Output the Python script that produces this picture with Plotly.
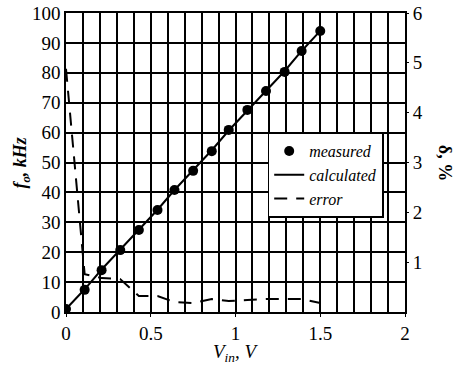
import plotly.graph_objects as go

# ---- data ----
vin = [0, 0.11, 0.21, 0.32, 0.43, 0.54, 0.64, 0.75, 0.86, 0.96, 1.07, 1.18, 1.29, 1.39, 1.5]
f_measured = [1.0, 7.4, 14.0, 20.7, 27.4, 34.1, 40.8, 47.2, 53.8, 60.9, 67.6, 73.9, 80.3, 87.3, 94.0]
f_calculated = [1.0, 7.6, 14.2, 20.9, 27.5, 34.2, 40.8, 47.5, 54.1, 60.7, 67.4, 74.0, 80.6, 87.3, 94.0]
error_pct = [4.88, 0.76, 0.68, 0.66, 0.32, 0.32, 0.20, 0.18, 0.26, 0.22, 0.24, 0.26, 0.26, 0.26, 0.18]

x_ticks = [0, 0.5, 1, 1.5, 2]
x_ticklabels = ["0", "0.5", "1", "1.5", "2"]
y_ticks = list(range(0, 101, 10))
y2_ticks = [1, 2, 3, 4, 5, 6]

x_title = "<i>V</i><sub><i>in</i></sub><i>, V</i>"
y_title = "<b><i>f</i></b><sub><b><i>o</i></b></sub><b><i>, kHz</i></b>"
y2_title = "<b>δ, %</b>"

FONT = "Liberation Serif"
TICKFONT = dict(family=FONT, size=19, color="black")

fig = go.Figure()
fig.add_trace(go.Scatter(
    x=vin, y=f_measured, mode="markers", name="measured",
    marker=dict(color="black", size=10, symbol="circle"),
))
fig.add_trace(go.Scatter(
    x=vin, y=f_calculated, mode="lines", name="calculated",
    line=dict(color="black", width=2),
))
fig.add_trace(go.Scatter(
    x=vin, y=error_pct, mode="lines", name="error", yaxis="y2",
    line=dict(color="black", width=2, dash="13px,9px"),
))

fig.update_layout(
    width=454, height=365,
    margin=dict(l=66, r=49, t=13, b=53, autoexpand=False),
    paper_bgcolor="white", plot_bgcolor="white",
    font=dict(family=FONT, size=18, color="black"),
    showlegend=True,
    legend=dict(
        x=0.595, y=0.6, xanchor="left", yanchor="top",
        bgcolor="white", bordercolor="black", borderwidth=1.5,
        font=dict(family=FONT, size=16, style="italic"),
        itemwidth=30, tracegroupgap=0,
    ),
    xaxis=dict(
        range=[0, 2], tickvals=x_ticks, ticktext=x_ticklabels, tickfont=TICKFONT,
        showgrid=True, gridcolor="black", gridwidth=1.5,
        minor=dict(dtick=0.1, showgrid=True, gridcolor="black", gridwidth=1.5),
        showline=True, linecolor="black", linewidth=1.5, mirror=True,
        ticks="outside", ticklen=3, tickcolor="black",
        zeroline=False, automargin=False,
    ),
    yaxis=dict(
        range=[0, 100], tickvals=y_ticks, tickfont=TICKFONT,
        showgrid=True, gridcolor="black", gridwidth=1.5,
        showline=True, linecolor="black", linewidth=1.5, mirror=True,
        ticks="", zeroline=False, automargin=False, ticklabeloverflow="allow",
    ),
    yaxis2=dict(
        range=[0, 6], tickvals=y2_ticks, overlaying="y", side="right", tickfont=TICKFONT,
        showgrid=False, zeroline=False, showline=False,
        ticks="outside", ticklen=3, tickcolor="black", automargin=False,
        ticklabeloverflow="allow",
    ),
    annotations=[
        dict(text=x_title, xref="paper", yref="paper", x=0.5, y=-0.09,
             xanchor="center", yanchor="top", showarrow=False,
             font=dict(family=FONT, size=19)),
        dict(text=y_title, xref="paper", yref="paper", x=-0.13, y=0.5,
             xanchor="center", yanchor="middle", showarrow=False, textangle=-90,
             font=dict(family=FONT, size=18)),
        dict(text=y2_title, xref="paper", yref="paper", x=1.12, y=0.5,
             xanchor="center", yanchor="middle", showarrow=False, textangle=90,
             font=dict(family=FONT, size=18)),
    ],
)

# remove the browser's default 8px body margin so the figure sits at the page origin
fig.write_html("out.html", config={"displayModeBar": False},
               post_script="document.body.style.margin='0';")
